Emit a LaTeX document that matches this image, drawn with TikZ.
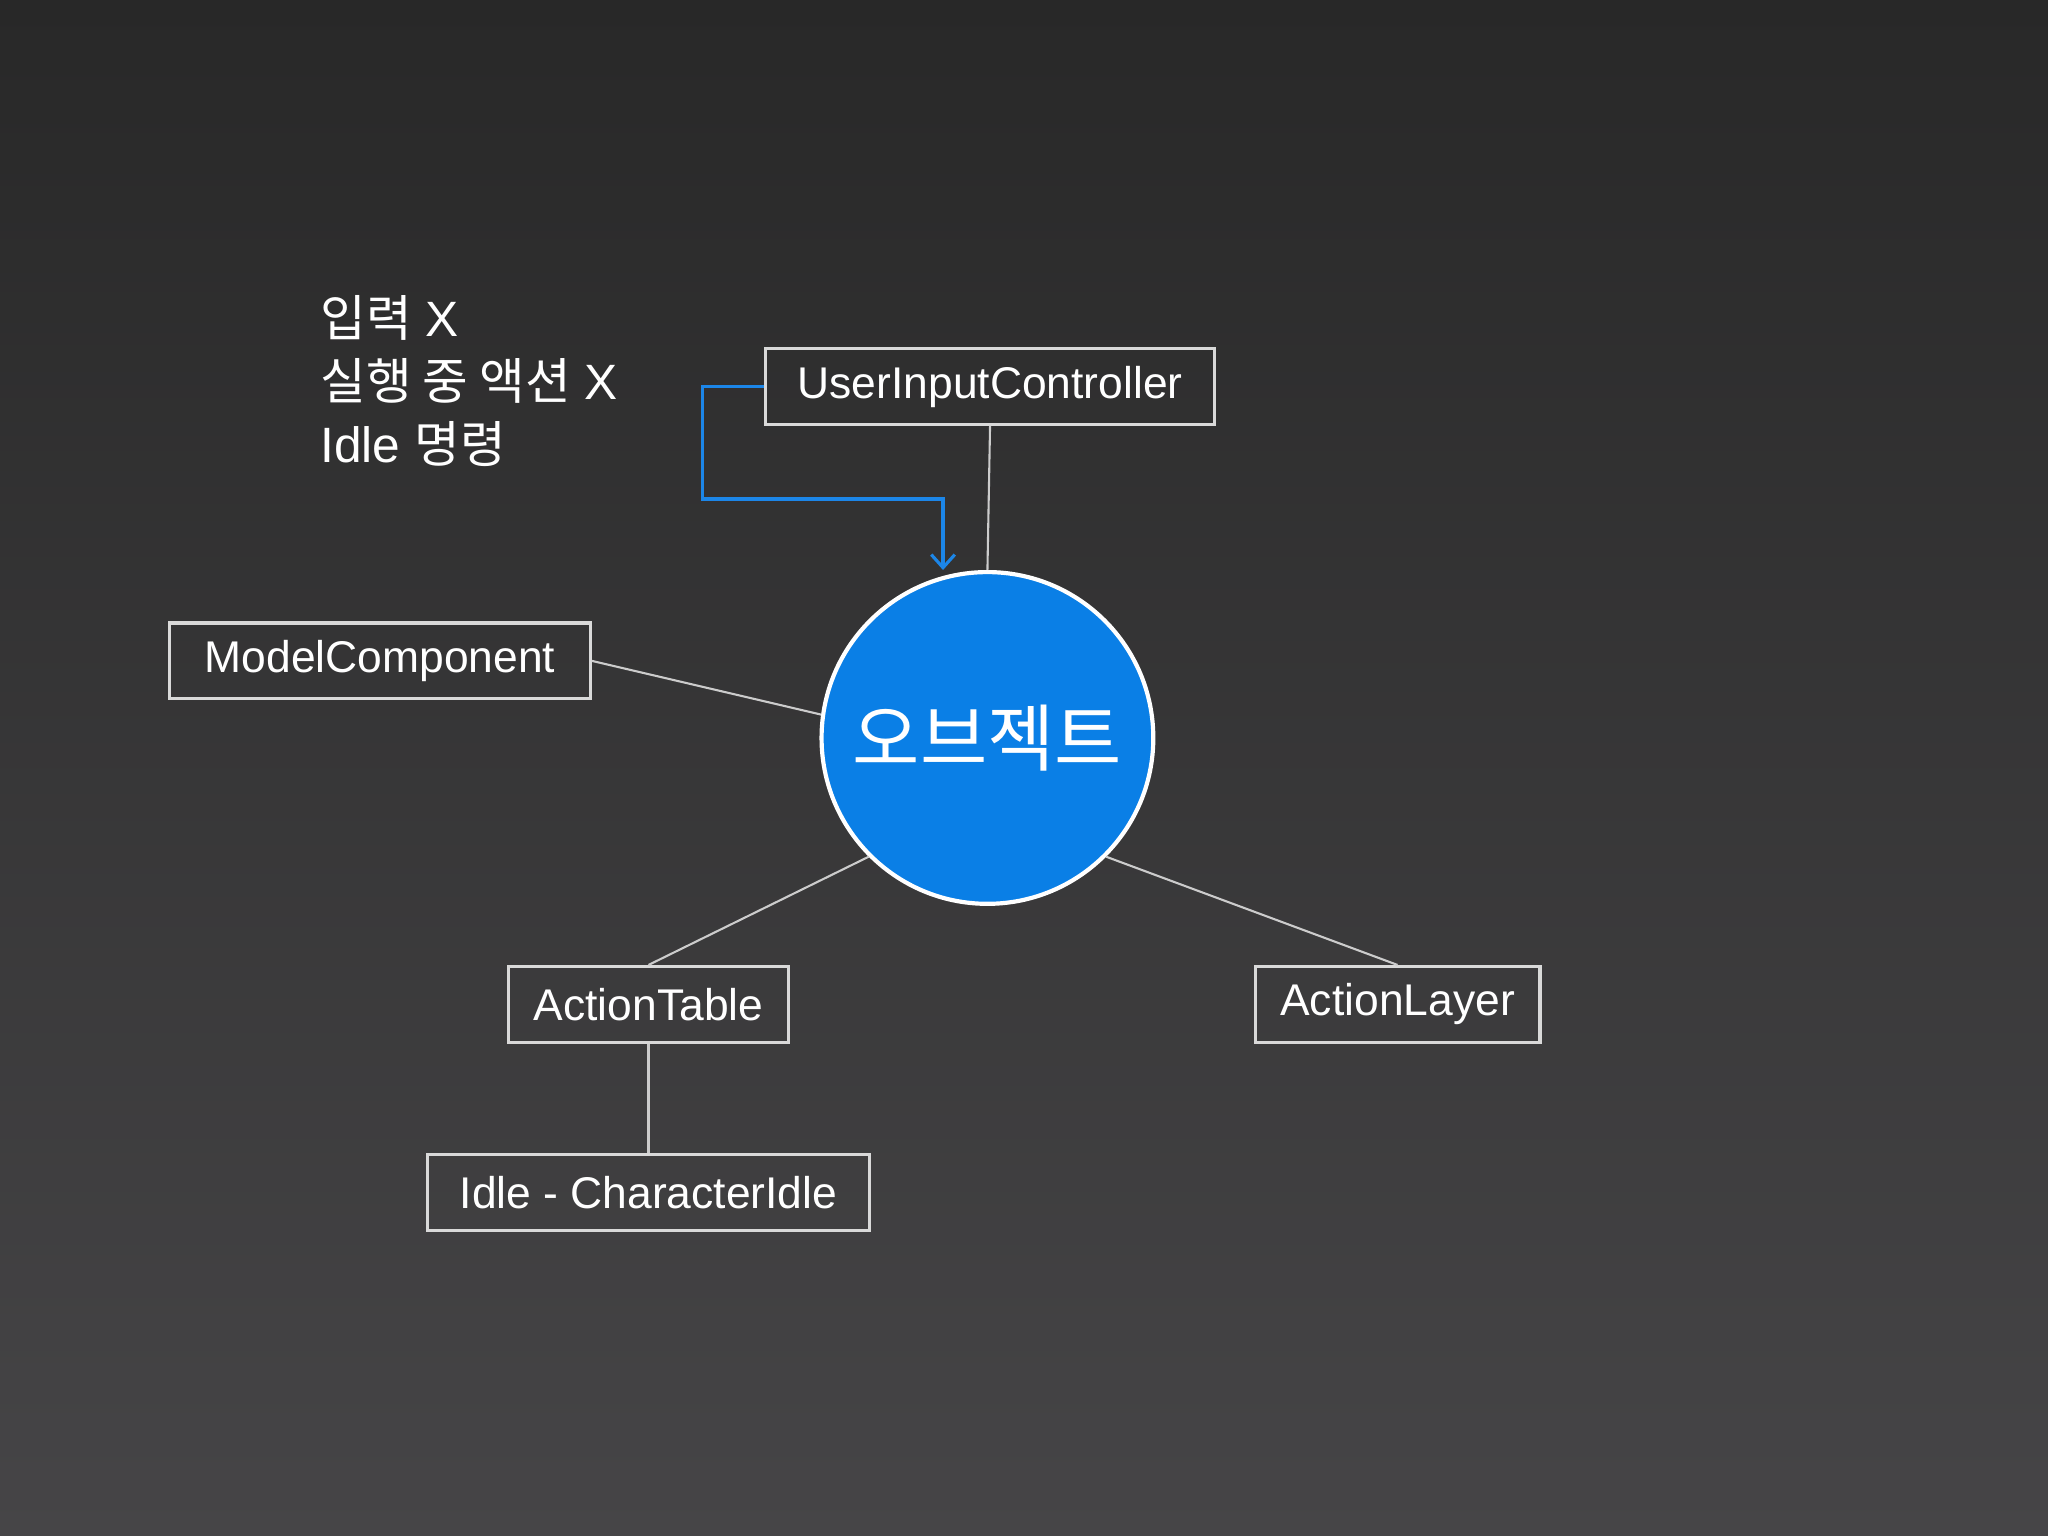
\documentclass[tikz,border=0pt]{standalone}
\usepackage{fontspec}
\setmainfont{Liberation Sans}
\newfontfamily\kr{Noto Sans CJK KR}
\usetikzlibrary{arrows.meta}
\definecolor{bgtop}{HTML}{282828}
\definecolor{bgbot}{HTML}{464547}
\definecolor{objblue}{HTML}{0A7FE6}
\definecolor{arrblue}{HTML}{1C86E8}
\begin{document}
\begin{tikzpicture}[x=0.5pt,y=-0.5pt,
  box/.style={draw=white!85!black,line width=1.2pt,minimum height=29pt,inner sep=0pt,text=white,font=\fontsize{17}{20}\selectfont},
  link/.style={draw=white!80!black,line width=0.8pt}]
\shade[top color=bgtop,bottom color=bgbot] (0,0) rectangle (1568,1176);
\useasboundingbox (0,0) rectangle (1568,1176);
\node[box,minimum width=172pt] (uic) at (758,296) {UserInputController};
\node[box,minimum width=161pt] (mc) at (291,506) {ModelComponent};
\node[box,minimum width=107.5pt] (at) at (496.5,769) {ActionTable};
\node[box,minimum width=109pt] (al) at (1070,769) {ActionLayer};
\node[box,minimum width=169.5pt] (idle) at (496.5,913) {Idle - CharacterIdle};
\node[circle,fill=objblue,draw=white,line width=1.6pt,minimum size=127pt,inner sep=0pt,text=white,font=\kr\fontsize{28}{30}\selectfont] (obj) at (756,565) {오브젝트};
\draw[link] (uic.south) -- (obj.north);
\draw[link] (mc.east) -- (obj.172);
\draw[link] (at.north) -- (obj.225);
\draw[link] (al.north) -- (obj.-45);
\draw[link] (at.south) -- (idle.north);
\coordinate (a1) at (538,296);
\coordinate (a2) at (538,382);
\coordinate (a3) at (722,382);
\draw[arrblue,line width=1.2pt,-{Straight Barb[length=5pt,width=9pt]}] (uic.west) -- (a1) -- (a2) -- (a3) -- (obj.north -| a3);
\node[anchor=north west,align=left,text=white,inner sep=0pt,font=\fontsize{19}{24}\selectfont] (txt) at (245,226) {{\kr 입력} X\\{\kr 실행 중 액션} X\\Idle {\kr 명령}};
\end{tikzpicture}
\end{document}
